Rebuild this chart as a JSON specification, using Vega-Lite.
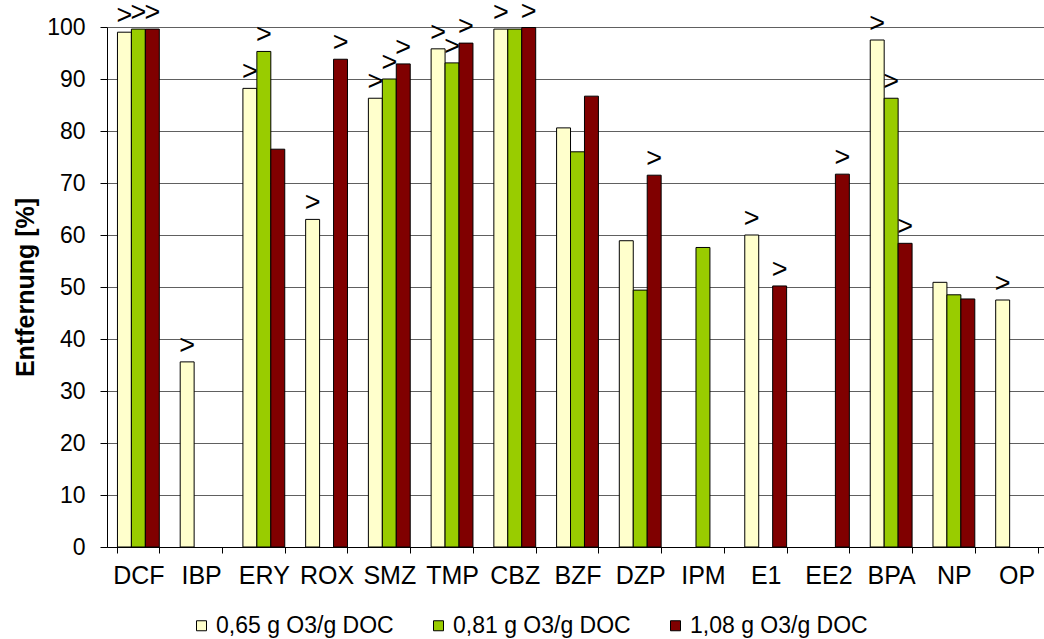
{
  "$schema": "https://vega.github.io/schema/vega-lite/v6.json",
  "width": 941,
  "height": 520,
  "autosize": {"type": "none"},
  "padding": {"left": 107, "top": 27, "right": 0, "bottom": 92},
  "background": "white",
  "config": {
    "view": {"stroke": null},
    "font": "Liberation Sans"
  },
  "data": {
    "values": [
      {"cat": "DCF", "series": "0,65 g O3/g DOC", "value": 99.0, "gt": true},
      {"cat": "DCF", "series": "0,81 g O3/g DOC", "value": 99.6, "gt": true},
      {"cat": "DCF", "series": "1,08 g O3/g DOC", "value": 99.6, "gt": true},
      {"cat": "IBP", "series": "0,65 g O3/g DOC", "value": 35.6, "gt": true},
      {"cat": "ERY", "series": "0,65 g O3/g DOC", "value": 88.2, "gt": true},
      {"cat": "ERY", "series": "0,81 g O3/g DOC", "value": 95.3, "gt": true},
      {"cat": "ERY", "series": "1,08 g O3/g DOC", "value": 76.5, "gt": false},
      {"cat": "ROX", "series": "0,65 g O3/g DOC", "value": 63.0, "gt": true},
      {"cat": "ROX", "series": "1,08 g O3/g DOC", "value": 93.8, "gt": true},
      {"cat": "SMZ", "series": "0,65 g O3/g DOC", "value": 86.3, "gt": true},
      {"cat": "SMZ", "series": "0,81 g O3/g DOC", "value": 90.0, "gt": true},
      {"cat": "SMZ", "series": "1,08 g O3/g DOC", "value": 92.9, "gt": true},
      {"cat": "TMP", "series": "0,65 g O3/g DOC", "value": 95.8, "gt": true},
      {"cat": "TMP", "series": "0,81 g O3/g DOC", "value": 93.1, "gt": true},
      {"cat": "TMP", "series": "1,08 g O3/g DOC", "value": 96.9, "gt": true},
      {"cat": "CBZ", "series": "0,65 g O3/g DOC", "value": 99.6, "gt": true},
      {"cat": "CBZ", "series": "0,81 g O3/g DOC", "value": 99.6, "gt": false},
      {"cat": "CBZ", "series": "1,08 g O3/g DOC", "value": 99.9, "gt": true},
      {"cat": "BZF", "series": "0,65 g O3/g DOC", "value": 80.6, "gt": false},
      {"cat": "BZF", "series": "0,81 g O3/g DOC", "value": 76.0, "gt": false},
      {"cat": "BZF", "series": "1,08 g O3/g DOC", "value": 86.7, "gt": false},
      {"cat": "DZP", "series": "0,65 g O3/g DOC", "value": 58.9, "gt": false},
      {"cat": "DZP", "series": "0,81 g O3/g DOC", "value": 49.4, "gt": false},
      {"cat": "DZP", "series": "1,08 g O3/g DOC", "value": 71.5, "gt": true},
      {"cat": "IPM", "series": "0,81 g O3/g DOC", "value": 57.6, "gt": false},
      {"cat": "E1", "series": "0,65 g O3/g DOC", "value": 60.0, "gt": true},
      {"cat": "E1", "series": "1,08 g O3/g DOC", "value": 50.2, "gt": true},
      {"cat": "EE2", "series": "1,08 g O3/g DOC", "value": 71.7, "gt": true},
      {"cat": "BPA", "series": "0,65 g O3/g DOC", "value": 97.5, "gt": true},
      {"cat": "BPA", "series": "0,81 g O3/g DOC", "value": 86.3, "gt": true},
      {"cat": "BPA", "series": "1,08 g O3/g DOC", "value": 58.4, "gt": true},
      {"cat": "NP", "series": "0,65 g O3/g DOC", "value": 50.9, "gt": false},
      {"cat": "NP", "series": "0,81 g O3/g DOC", "value": 48.5, "gt": false},
      {"cat": "NP", "series": "1,08 g O3/g DOC", "value": 47.7, "gt": false},
      {"cat": "OP", "series": "0,65 g O3/g DOC", "value": 47.5, "gt": true}
    ]
  },
  "encoding": {
    "x": {
      "field": "cat",
      "type": "nominal",
      "sort": ["DCF", "IBP", "ERY", "ROX", "SMZ", "TMP", "CBZ", "BZF", "DZP", "IPM", "E1", "EE2", "BPA", "NP", "OP"],
      "scale": {"paddingInner": 0.333, "paddingOuter": 0.1667},
      "axis": {
        "title": null,
        "labelAngle": 0,
        "labelFontSize": 25,
        "labelColor": "black",
        "labelPadding": 10,
        "tickBand": "extent",
        "tickSize": 6,
        "tickColor": "black",
        "domainColor": "black",
        "grid": false
      }
    },
    "xOffset": {
      "field": "series",
      "type": "nominal",
      "sort": ["0,65 g O3/g DOC", "0,81 g O3/g DOC", "1,08 g O3/g DOC"],
      "scale": {"domain": ["0,65 g O3/g DOC", "0,81 g O3/g DOC", "1,08 g O3/g DOC"], "paddingInner": 0, "paddingOuter": 0}
    },
    "y": {
      "field": "value",
      "type": "quantitative",
      "scale": {"domain": [0, 100], "nice": false},
      "axis": {
        "title": "Entfernung [%]",
        "titleFontSize": 25,
        "titleFontWeight": "bold",
        "titleColor": "black",
        "titleAngle": -90,
        "titleX": -82,
        "titleY": 260,
        "titleAlign": "center",
        "titleBaseline": "middle",
        "values": [0, 10, 20, 30, 40, 50, 60, 70, 80, 90, 100],
        "labelFontSize": 23,
        "labelColor": "black",
        "labelPadding": 15,
        "tickSize": 7,
        "tickColor": "black",
        "domainColor": "black",
        "gridColor": "#606060",
        "gridOpacity": 1,
        "gridWidth": 1
      }
    }
  },
  "layer": [
    {
      "mark": {"type": "bar", "stroke": "black", "strokeWidth": 1},
      "encoding": {
        "color": {
          "field": "series",
          "type": "nominal",
          "scale": {
            "domain": ["0,65 g O3/g DOC", "0,81 g O3/g DOC", "1,08 g O3/g DOC"],
            "range": ["#FFFFCC", "#99CC00", "#800000"]
          },
          "legend": {
            "title": null,
            "orient": "none",
            "direction": "horizontal",
            "legendX": 83,
            "legendY": 587,
            "padding": 0,
            "symbolType": "square",
            "symbolSize": 100,
            "symbolStrokeColor": "black",
            "symbolStrokeWidth": 1,
            "labelFontSize": 23,
            "labelColor": "black",
            "labelOffset": 3,
            "columnPadding": 33,
            "labelLimit": 400
          }
        }
      }
    },
    {
      "transform": [{"filter": "datum.gt"}],
      "mark": {"type": "text", "text": ">", "fontSize": 27, "color": "black", "baseline": "alphabetic", "dy": -8},
      "encoding": {}
    }
  ]
}
